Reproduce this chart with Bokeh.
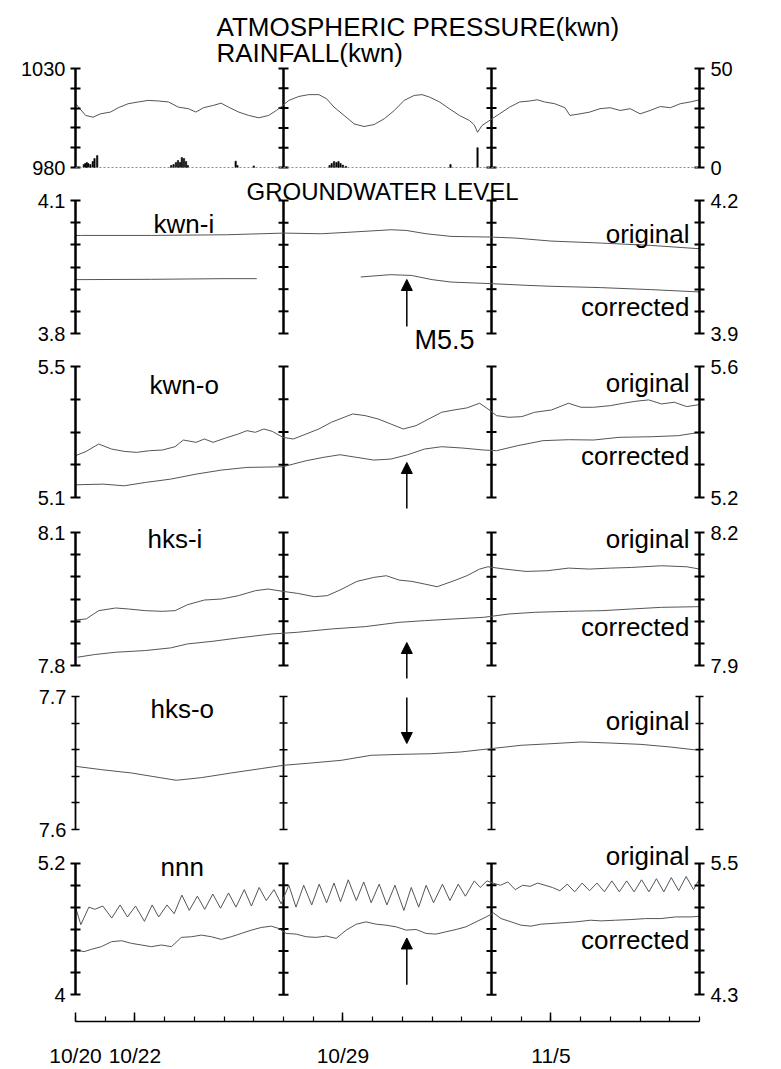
from bokeh.plotting import figure
from bokeh.models import Range1d, LinearAxis, FixedTicker, Label, Arrow, NormalHead, Span
from bokeh.layouts import column
from bokeh.embed import file_html
from bokeh.resources import INLINE

NAN = float("nan")

# ---------------- data ----------------
DAY_SPAN = [0, 21]                      # 10/20 .. 11/10 (days since 10/20)
WEEK_LINES = [7, 14]                    # 10/27, 11/3
DATE_TICKS = [0, 2, 9, 16]
DATE_LABELS = ["10/20", "10/22", "10/29", "11/5"]
DAY_MINOR = list(range(0, 22))
EQ_DAY = 11.15                          # M5.5 earthquake

PRESS_DAY = [0.00, 0.34, 0.59, 0.84, 1.18, 1.44, 1.77, 2.11, 2.45, 2.79, 3.13, 3.46, 3.80, 4.05,
             4.31, 4.65, 4.90, 5.15, 5.49, 5.83, 6.17, 6.50, 6.76, 6.93, 7.18, 7.52, 7.85, 8.19,
             8.45, 8.70, 9.04, 9.38, 9.71, 10.05, 10.39, 10.73, 11.06, 11.40, 11.66, 11.91, 12.25,
             12.58, 12.92, 13.26, 13.42, 13.53, 13.68, 14.02, 14.27, 14.61, 14.95, 15.29, 15.54,
             15.79, 16.13, 16.47, 16.64, 16.98, 17.31, 17.65, 17.99, 18.33, 18.67, 19.00, 19.34,
             19.68, 20.02, 20.35, 20.69, 21.00]
PRESS_HPA = [1012.3, 1006.3, 1005.4, 1007.1, 1008.0, 1010.2, 1012.2, 1013.1, 1013.9, 1013.6, 1013.1,
             1010.5, 1009.7, 1008.0, 1010.2, 1011.4, 1012.5, 1010.5, 1008.0, 1006.3, 1005.1, 1006.3,
             1008.8, 1010.8, 1013.9, 1015.9, 1016.8, 1016.8, 1014.7, 1010.5, 1006.3, 1002.0, 1000.7,
             1001.7, 1004.6, 1008.8, 1013.9, 1016.4, 1016.8, 1015.6, 1013.1, 1009.7, 1006.3, 1003.7,
             1001.5, 997.8, 1001.2, 1004.6, 1007.1, 1010.5, 1013.1, 1013.6, 1014.2, 1013.1, 1012.2,
             1010.2, 1006.3, 1007.1, 1008.0, 1009.7, 1010.2, 1008.8, 1009.7, 1007.1, 1008.8, 1010.8,
             1010.2, 1012.2, 1013.1, 1014.2]

RAIN_DAY = [0.28, 0.33, 0.38, 0.43, 0.50, 0.58, 0.64, 0.73,
            3.22, 3.30, 3.38, 3.45, 3.52, 3.58, 3.65, 3.72, 3.78,
            5.39, 5.45, 6.00,
            8.55, 8.62, 8.70, 8.78, 8.85, 8.92, 9.00, 9.10,
            12.62, 13.53]
RAIN_MMH = [1.5, 2.0, 2.5, 2.0, 1.5, 3.0, 4.5, 6.0,
            1.0, 1.5, 2.5, 3.5, 2.5, 5.0, 4.5, 3.0, 1.0,
            3.2, 1.0, 0.8,
            1.0, 2.0, 3.0, 2.5, 3.0, 2.0, 1.2, 0.6,
            1.5, 10.0]

KWNI_ORIG_DAY = [0.0, 0.2, 2.55, 5.08, 6.25, 7.0, 8.27, 9.28, 10.62, 11.13, 11.8, 12.64, 13.98,
                 14.82, 16.0, 17.68, 19.36, 21.0]
KWNI_ORIG = [4.021, 4.0212, 4.0212, 4.0227, 4.025, 4.0265, 4.025, 4.0287, 4.034, 4.0325, 4.025,
             4.019, 4.0175, 4.0152, 4.0085, 4.004, 3.9987, 3.9912]
KWNI_CORR_DAY = [0.0, 2.55, 5.0, 6.1, 7.8, 9.6, 10.6, 11.3, 12.0, 12.64, 13.98, 15.16, 16.0, 17.68,
                 19.36, 21.0]
KWNI_CORR = [4.0215, 4.0222, 4.0237, 4.0237, NAN, 4.0275, 4.0327, 4.031, 4.0215, 4.016, 4.0125,
             4.0087, 4.0065, 4.0035, 3.999, 3.9937]

KWNO_ORIG_DAY = [0.00, 0.36, 0.78, 1.21, 1.64, 2.06, 2.49, 2.92, 3.35, 3.63, 4.06, 4.34, 4.63, 5.05,
                 5.48, 5.77, 6.05, 6.34, 6.62, 6.98, 7.33, 7.76, 8.19, 8.61, 9.04, 9.33, 9.75, 10.18,
                 10.61, 11.03, 11.46, 11.89, 12.32, 12.74, 13.17, 13.60, 13.88, 14.17, 14.59, 15.02,
                 15.45, 16.02, 16.59, 17.01, 17.44, 18.01, 18.44, 18.86, 19.29, 19.72, 20.15, 20.57,
                 21.00]
KWNO_ORIG = [5.2276, 5.2408, 5.2633, 5.2480, 5.2408, 5.2378, 5.2429, 5.2449, 5.2551, 5.2755, 5.2684,
             5.2786, 5.2684, 5.2816, 5.2939, 5.3041, 5.2990, 5.3092, 5.3020, 5.2837, 5.2786, 5.2939,
             5.3092, 5.3296, 5.3449, 5.3551, 5.3500, 5.3398, 5.3245, 5.3092, 5.3194, 5.3398, 5.3602,
             5.3673, 5.3735, 5.3878, 5.3704, 5.3500, 5.3449, 5.3469, 5.3602, 5.3673, 5.3878, 5.3755,
             5.3755, 5.3806, 5.3878, 5.3939, 5.3980, 5.3857, 5.3908, 5.3776, 5.3837]
KWNO_CORR_DAY = [0.00, 0.93, 1.64, 2.35, 3.20, 4.06, 4.91, 5.77, 6.98, 7.76, 8.33, 8.90, 9.47, 10.04,
                 10.61, 11.18, 11.75, 12.32, 13.03, 13.74, 14.17, 14.88, 15.73, 16.59, 17.44, 18.29,
                 19.43, 20.29, 21.00]
KWNO_CORR = [5.2388, 5.2408, 5.2357, 5.2459, 5.2561, 5.2714, 5.2837, 5.2918, 5.2939, 5.3122, 5.3224,
             5.3306, 5.3224, 5.3143, 5.3173, 5.3306, 5.3480, 5.3551, 5.3510, 5.3449, 5.3429, 5.3582,
             5.3735, 5.3765, 5.3755, 5.3837, 5.3857, 5.3888, 5.3990]

HKSI_ORIG_DAY = [0.00, 0.36, 0.78, 1.35, 1.78, 2.35, 2.92, 3.35, 3.77, 4.34, 4.91, 5.48, 6.05, 6.48,
                 6.98, 7.47, 8.04, 8.47, 8.90, 9.47, 10.04, 10.46, 10.89, 11.32, 11.75, 12.17, 12.74,
                 13.17, 13.60, 13.88, 14.45, 15.16, 15.87, 16.59, 17.30, 18.01, 18.72, 19.72, 20.57,
                 21.00]
HKSI_ORIG = [7.9027, 7.9050, 7.9237, 7.9297, 7.9275, 7.9237, 7.9222, 7.9237, 7.9372, 7.9477, 7.9500,
             7.9575, 7.9687, 7.9725, 7.9672, 7.9627, 7.9552, 7.9575, 7.9702, 7.9897, 7.9987, 8.0025,
             7.9927, 7.9897, 7.9837, 7.9777, 7.9912, 8.0025, 8.0175, 8.0227, 8.0175, 8.0122, 8.0137,
             8.0197, 8.0175, 8.0197, 8.0212, 8.0250, 8.0227, 8.0175]
HKSI_CORR_DAY = [0.07, 0.64, 1.35, 2.35, 3.20, 3.77, 4.63, 5.48, 6.62, 7.47, 8.61, 9.75, 10.89, 11.75,
                 12.74, 13.74, 14.59, 15.45, 16.59, 17.72, 18.72, 19.72, 21.00]
HKSI_CORR = [7.9187, 7.9247, 7.9299, 7.9337, 7.9397, 7.9487, 7.9547, 7.9622, 7.9712, 7.9749, 7.9824,
             7.9877, 7.9974, 8.0012, 8.0050, 8.0087, 8.0162, 8.0200, 8.0222, 8.0237, 8.0275, 8.0312,
             8.0327]

HKSO_ORIG_DAY = [0.00, 0.87, 1.88, 3.39, 4.24, 5.24, 6.25, 7.01, 7.93, 8.94, 9.95, 10.96, 11.97,
                 12.97, 13.98, 14.99, 16.00, 17.01, 18.02, 19.03, 20.03, 21.00]
HKSO_ORIG = [7.6475, 7.6450, 7.6425, 7.6370, 7.6390, 7.6425, 7.6458, 7.6483, 7.6500, 7.6520, 7.6558,
             7.6565, 7.6570, 7.6583, 7.6608, 7.6633, 7.6645, 7.6658, 7.6650, 7.6640, 7.6620, 7.6595]

NNN_ORIG_DAY = [0.00, 0.18, 0.45, 0.65, 0.92, 1.22, 1.50, 1.75, 2.02, 2.32, 2.58, 2.80, 3.08, 3.32,
                3.58, 3.83, 4.10, 4.35, 4.62, 4.88, 5.15, 5.40, 5.68, 5.92, 6.18, 6.42, 6.68, 6.92,
                7.18, 7.42, 7.68, 7.95, 8.20, 8.45, 8.70, 8.92, 9.18, 9.45, 9.70, 9.95, 10.22, 10.48,
                10.75, 11.05, 11.30, 11.55, 11.80, 12.05, 12.35, 12.60, 12.88, 13.12, 13.42, 13.62,
                13.85, 14.05, 14.30, 14.55, 14.80, 15.05, 15.30, 15.55, 15.80, 16.05, 16.30, 16.55,
                16.80, 17.05, 17.30, 17.55, 17.80, 18.05, 18.30, 18.55, 18.80, 19.05, 19.30, 19.55,
                19.80, 20.05, 20.30, 20.55, 20.80, 21.00]
NNN_ORIG = [4.80, 4.64, 4.80, 4.78, 4.81, 4.70, 4.82, 4.71, 4.81, 4.67, 4.82, 4.71, 4.82, 4.74,
            4.91, 4.77, 4.90, 4.78, 4.92, 4.79, 4.93, 4.80, 4.96, 4.81, 4.98, 4.86, 4.96, 4.83,
            5.00, 4.80, 5.00, 4.82, 5.01, 4.84, 5.02, 4.85, 5.05, 4.86, 5.03, 4.84, 5.01, 4.82,
            5.00, 4.77, 4.98, 4.80, 5.00, 4.84, 5.01, 4.86, 5.01, 4.90, 5.04, 4.98,
            5.04, 5.02, 5.00, 5.03, 4.96, 5.00, 4.99, 5.02, 5.00, 4.98, 4.95, 5.01,
            4.94, 5.02, 4.95, 5.02, 4.94, 5.04, 4.94, 5.04, 4.94, 5.05, 4.94, 5.06,
            4.94, 5.07, 4.95, 5.08, 4.96, 5.06]
NNN_CORR_DAY = [0.00, 0.29, 0.54, 0.87, 1.21, 1.55, 1.88, 2.22, 2.55, 2.89, 3.23, 3.56, 3.90, 4.24,
                4.57, 4.91, 5.24, 5.58, 5.92, 6.25, 6.59, 6.84, 7.09, 7.43, 7.76, 8.10, 8.44, 8.77,
                9.11, 9.45, 9.78, 10.12, 10.45, 10.79, 11.13, 11.46, 11.80, 12.13, 12.47, 12.81,
                13.14, 13.48, 13.82, 14.07, 14.32, 14.66, 14.99, 15.33, 15.66, 16.00, 16.34, 16.84,
                17.34, 17.68, 18.18, 18.69, 19.19, 19.70, 20.20, 20.71, 21.00]
NNN_CORR = [4.7085, 4.6934, 4.7145, 4.7387, 4.7840, 4.7931, 4.7689, 4.7538, 4.7387, 4.7538, 4.7387,
            4.8233, 4.8293, 4.8444, 4.8293, 4.8051, 4.8293, 4.8595, 4.8897, 4.9139, 4.9260, 4.9048,
            4.8595, 4.8535, 4.8293, 4.8233, 4.8353, 4.8142, 4.8897, 4.9441, 4.9653, 4.9441, 4.9350,
            4.9199, 4.8897, 4.8958, 4.8595, 4.8535, 4.8746, 4.8958, 4.9199, 4.9653, 5.0106, 5.0468,
            4.9955, 4.9653, 4.9350, 4.9260, 4.9441, 4.9502, 4.9562, 4.9653, 4.9804, 4.9743, 4.9804,
            4.9864, 4.9955, 4.9955, 5.0106, 5.0106, 5.0166]

# ---------------- layout / style ----------------
FONT = "Liberation Sans"
W = 781
ML, MR = 75, 82
FW = W - ML - MR
LINE_C = "#555555"
TICK_FS = "20px"
XR = Range1d(DAY_SPAN[0], DAY_SPAN[1])


def day_at(px):
    return DAY_SPAN[0] + (px - ML) / FW * (DAY_SPAN[1] - DAY_SPAN[0])


def style_axis(ax, lw, tick):
    ax.axis_line_width = lw
    ax.axis_line_color = "black"
    ax.major_tick_in = tick
    ax.major_tick_out = tick
    ax.minor_tick_in = tick
    ax.minor_tick_out = tick
    ax.major_tick_line_width = max(1.5, lw * 0.8)
    ax.minor_tick_line_width = max(1.5, lw * 0.8)
    ax.major_tick_line_color = "black"
    ax.minor_tick_line_color = "black"
    ax.major_label_text_font = FONT
    ax.major_label_text_font_size = TICK_FS
    ax.major_label_text_color = "black"
    ax.major_label_standoff = 5


def build(top, bottom, p_hi, p_lo, lo, hi, nint, labs, rng=None, rlabs=None,
          fbot=None, lw=2.5, tick=5):
    fb = bottom if fbot is None else fbot
    s = (hi - lo) / (p_lo - p_hi)
    p = figure(width=W, height=bottom - top, x_range=XR,
               y_range=Range1d(lo - (fb - p_lo) * s, hi + (p_hi - top) * s),
               output_backend="svg", toolbar_location=None,
               x_axis_type=None, y_axis_type=None,
               min_border_left=ML, min_border_right=MR,
               min_border_top=0, min_border_bottom=bottom - fb)
    p.outline_line_color = None
    p.background_fill_color = "white"
    p.border_fill_color = "white"
    ticks = [round(lo + i * (hi - lo) / nint, 6) for i in range(nint + 1)]
    la = LinearAxis(ticker=FixedTicker(ticks=[lo, hi], minor_ticks=ticks[1:-1]),
                    bounds=(lo, hi), major_label_overrides={lo: labs[0], hi: labs[1]})
    style_axis(la, lw, tick)
    p.add_layout(la, "left")
    if rng is not None:
        rlo, rhi = rng
        sr = (rhi - rlo) / (p_lo - p_hi)
        p.extra_y_ranges = {"r": Range1d(rlo - (fb - p_lo) * sr, rhi + (p_hi - top) * sr)}
        rt = [round(rlo + i * (rhi - rlo) / nint, 6) for i in range(nint + 1)]
        ra = LinearAxis(y_range_name="r",
                        ticker=FixedTicker(ticks=[rlo, rhi], minor_ticks=rt[1:-1]),
                        bounds=(rlo, rhi), major_label_overrides={rlo: rlabs[0], rhi: rlabs[1]})
        style_axis(ra, lw, tick)
    else:
        ra = LinearAxis(ticker=FixedTicker(ticks=[lo, hi], minor_ticks=ticks[1:-1]),
                        bounds=(lo, hi))
        style_axis(ra, lw, tick)
        ra.major_label_text_color = None
    ra.major_label_standoff = 6
    p.add_layout(ra, "right")
    n = len(WEEK_LINES)
    p.segment(x0=WEEK_LINES, y0=[lo] * n, x1=WEEK_LINES, y1=[hi] * n,
              line_color="black", line_width=lw)
    p.scatter([d for d in WEEK_LINES for _ in ticks], [t for _ in WEEK_LINES for t in ticks],
              marker="dash", size=2 * tick, line_color="black", line_width=max(1.5, lw * 0.8))

    def pv(py):
        return lo + (p_lo - py) * s
    return p, pv


def label(p, px, y, text, align="left", size="26px"):
    p.add_layout(Label(x=day_at(px), y=y, text=text, text_align=align, text_baseline="middle",
                       text_font=FONT, text_font_size=size, text_color="black"))


def arrow(p, y0, y1):
    p.add_layout(Arrow(end=NormalHead(size=11, fill_color="black", line_color="black"),
                       x_start=EQ_DAY, y_start=y0, x_end=EQ_DAY, y_end=y1,
                       line_color="black", line_width=1.5))


# Panel 1: pressure and rainfall
p1, v1 = build(0, 178, 68, 167, 980, 1030, 5, ["980", "1030"], rng=(0, 50), rlabs=["0", "50"])
p1.add_layout(Span(location=0, dimension="width", y_range_name="r", line_color="#8a8a8a",
                   line_dash="2 2", line_width=1))
p1.vbar(x=RAIN_DAY, top=RAIN_MMH, bottom=0, width=0.045, y_range_name="r",
        fill_color="black", line_color="black", line_width=0.6)
p1.line(PRESS_DAY, PRESS_HPA, line_color=LINE_C, line_width=1)
label(p1, 216, v1(26), "ATMOSPHERIC PRESSURE(kwn)")
label(p1, 216, v1(52), "RAINFALL(kwn)")
label(p1, 17, v1(113), "hPa", size="25px")
label(p1, 710, v1(113), "mm/h", size="25px")

# Panel 2: kwn-i
p2, v2 = build(178, 355, 200, 333, 3.8, 4.1, 6, ["3.8", "4.1"], rng=(3.9, 4.2), rlabs=["3.9", "4.2"])
p2.line(KWNI_ORIG_DAY, KWNI_ORIG, line_color=LINE_C, line_width=1)
p2.line(KWNI_CORR_DAY, KWNI_CORR, line_color=LINE_C, line_width=1, y_range_name="r")
label(p2, 246, v2(191), "GROUNDWATER LEVEL", size="24px")
label(p2, 153, v2(223), "kwn-i")
label(p2, 689, v2(233), "original", align="right")
label(p2, 689, v2(306), "corrected", align="right")
label(p2, 26, v2(234), "m")
label(p2, 731, v2(234), "m")
label(p2, 414, v2(339), "M5.5", size="27px")
arrow(p2, v2(326), v2(279))

# Panel 3: kwn-o
p3, v3 = build(355, 516, 366, 497, 5.1, 5.5, 4, ["5.1", "5.5"], rng=(5.2, 5.6), rlabs=["5.2", "5.6"])
p3.line(KWNO_ORIG_DAY, KWNO_ORIG, line_color=LINE_C, line_width=1)
p3.line(KWNO_CORR_DAY, KWNO_CORR, line_color=LINE_C, line_width=1, y_range_name="r")
label(p3, 149, v3(384), "kwn-o")
label(p3, 689, v3(382), "original", align="right")
label(p3, 689, v3(455), "corrected", align="right")
arrow(p3, v3(508), v3(462))

# Panel 4: hks-i
p4, v4 = build(516, 684, 532, 665, 7.8, 8.1, 6, ["7.8", "8.1"], rng=(7.9, 8.2), rlabs=["7.9", "8.2"])
p4.line(HKSI_ORIG_DAY, HKSI_ORIG, line_color=LINE_C, line_width=1)
p4.line(HKSI_CORR_DAY, HKSI_CORR, line_color=LINE_C, line_width=1, y_range_name="r")
label(p4, 147, v4(538), "hks-i")
label(p4, 689, v4(538), "original", align="right")
label(p4, 689, v4(626), "corrected", align="right")
arrow(p4, v4(678), v4(642))

# Panel 5: hks-o
p5, v5 = build(684, 841, 696, 829, 7.6, 7.7, 5, ["7.6", "7.7"], lw=1.8, tick=4)
p5.line(HKSO_ORIG_DAY, HKSO_ORIG, line_color=LINE_C, line_width=1)
label(p5, 150, v5(708), "hks-o")
label(p5, 689, v5(720), "original", align="right")
arrow(p5, v5(697), v5(743))

# Panel 6: nnn + date axis
p6, v6 = build(841, 1069, 863, 995, 4.0, 5.2, 6, ["4", "5.2"], rng=(4.3, 5.5), rlabs=["4.3", "5.5"],
               fbot=1022)
p6.line(NNN_ORIG_DAY, NNN_ORIG, line_color=LINE_C, line_width=1)
p6.line(NNN_CORR_DAY, NNN_CORR, line_color=LINE_C, line_width=1, y_range_name="r")
label(p6, 160, v6(867), "nnn")
label(p6, 689, v6(856), "original", align="right")
label(p6, 689, v6(940), "corrected", align="right")
arrow(p6, v6(985), v6(938))

bx = LinearAxis(ticker=FixedTicker(ticks=DATE_TICKS, minor_ticks=DAY_MINOR),
                major_label_overrides=dict(zip(DATE_TICKS, DATE_LABELS)))
bx.axis_line_width = 1.5
bx.axis_line_color = "black"
bx.major_tick_in = 9
bx.major_tick_out = 0
bx.minor_tick_in = 5
bx.minor_tick_out = 0
bx.major_tick_line_width = 1.5
bx.minor_tick_line_width = 1.2
bx.major_label_text_font = FONT
bx.major_label_text_font_size = "21px"
bx.major_label_text_color = "black"
bx.major_label_standoff = 22
p6.add_layout(bx, "below")

layout = column(p1, p2, p3, p4, p5, p6, spacing=0)
open("out.html", "w").write(file_html(layout, INLINE))
